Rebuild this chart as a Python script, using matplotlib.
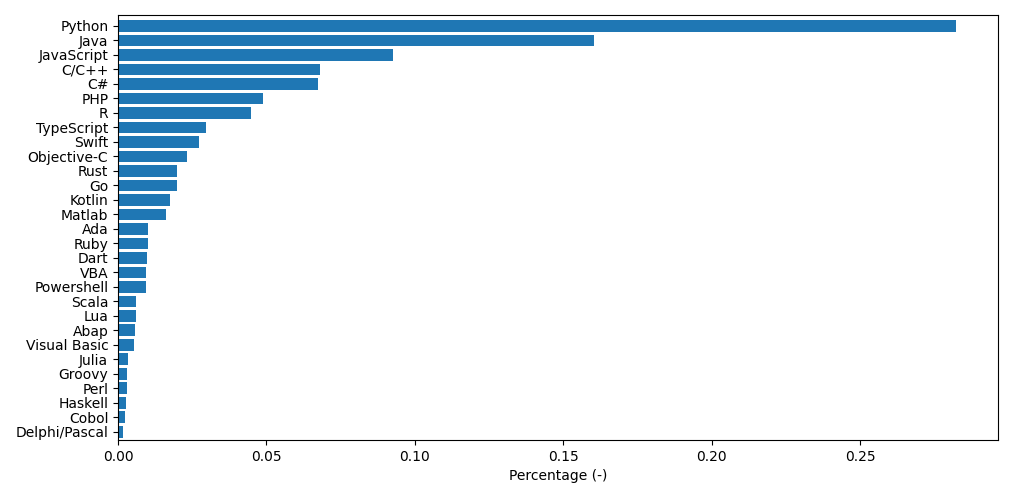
import matplotlib
matplotlib.use("Agg")
import matplotlib.pyplot as plt

# languages and their share, top to bottom
languages = ["Python", "Java", "JavaScript", "C/C++", "C#", "PHP", "R",
             "TypeScript", "Swift", "Objective-C", "Rust", "Go", "Kotlin",
             "Matlab", "Ada", "Ruby", "Dart", "VBA", "Powershell", "Scala",
             "Lua", "Abap", "Visual Basic", "Julia", "Groovy", "Perl",
             "Haskell", "Cobol", "Delphi/Pascal"]
shares = [0.2823, 0.1603, 0.0927, 0.0681, 0.0673, 0.0489, 0.0448,
          0.0296, 0.0273, 0.0232, 0.0199, 0.0198, 0.0175,
          0.0161, 0.0101, 0.0101, 0.0097, 0.0094, 0.0094, 0.0060,
          0.0060, 0.0057, 0.0054, 0.0033, 0.0030, 0.0030,
          0.0027, 0.0023, 0.0017]

fig, ax = plt.subplots(figsize=(10.13, 4.98), dpi=100)
ax.barh(languages, shares, color="#1f77b4")
# tight vertical limits, first language on top
ax.set_ylim(len(languages) - 1 + 0.57, -0.76)
ax.set_xlabel("Percentage (-)")

plt.subplots_adjust(left=0.1165, right=0.985, top=0.970, bottom=0.1165)
plt.savefig("out.png", dpi=100)
